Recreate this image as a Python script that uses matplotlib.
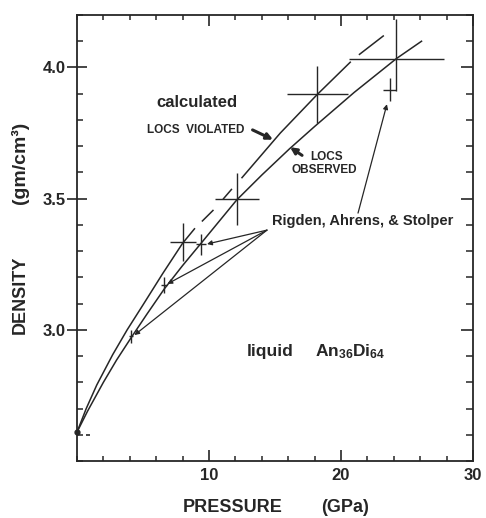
import numpy as np
import matplotlib
matplotlib.use('Agg')
import matplotlib.pyplot as plt
from matplotlib.ticker import MultipleLocator

plt.rcParams['font.family'] = ['Liberation Sans', 'DejaVu Sans']
plt.rcParams['font.weight'] = 'bold'
plt.rcParams['mathtext.fontset'] = 'custom'
plt.rcParams['mathtext.rm'] = 'Liberation Sans:bold'
plt.rcParams['mathtext.default'] = 'rm'

ink = '#262626'

# calculated curve, LOCS violated (upper), split where it is drawn dashed
viol_p1 = [0, 0.7, 1.5, 2.7, 3.8, 5.0, 6.5, 8.0, 8.9]
viol_d1 = [2.61, 2.70, 2.79, 2.905, 3.0, 3.095, 3.215, 3.33, 3.385]
viol_dash = [([9.5, 10.3], [3.415, 3.455]),
             ([11.1, 11.7], [3.50, 3.535]),
             ([21.4, 23.2], [4.05, 4.12])]
viol_p2 = [12.5, 15.4, 18.2, 20.7]
viol_d2 = [3.58, 3.75, 3.897, 4.02]

# calculated curve, LOCS observed (lower)
obs_p = [0, 0.8, 2, 3, 4.1, 5.3, 6.6, 8, 9.4, 12.1, 14, 16.1, 18, 21, 24.2, 26.1]
obs_d = [2.61, 2.69, 2.80, 2.885, 2.97, 3.06, 3.155, 3.245, 3.33, 3.495,
         3.59, 3.69, 3.775, 3.905, 4.034, 4.10]

# large crosses
big_p = [8.03, 12.12, 18.2, 24.2]
big_d = [3.335, 3.498, 3.897, 4.034]
big_perr = [1.0, 1.7, 2.3, 3.6]
big_derr_lo = [0.072, 0.10, 0.11, 0.125]
big_derr_hi = [0.072, 0.10, 0.11, 0.15]

# Rigden, Ahrens & Stolper points
ras_p = [4.1, 6.6, 9.4, 23.7]
ras_d = [2.975, 3.17, 3.327, 3.916]
ras_perr = [0.15, 0.2, 0.4, 0.5]
ras_derr = [0.025, 0.03, 0.04, 0.045]

fig = plt.figure(figsize=(4.86, 5.18), dpi=100)
ax = fig.add_axes([77/486, 57/518, 396/486, 446/518])

lw = 1.1
ax.plot(viol_p1, viol_d1, color=ink, lw=lw)
ax.plot(viol_p2, viol_d2, color=ink, lw=lw)
for p, d in viol_dash:
    ax.plot(p, d, color=ink, lw=lw)
ax.plot(obs_p, obs_d, color=ink, lw=lw)

ax.errorbar(big_p, big_d, xerr=big_perr, yerr=[big_derr_lo, big_derr_hi],
            fmt='none', ecolor=ink, elinewidth=1.0, capsize=0)
ax.errorbar(ras_p, ras_d, xerr=ras_perr, yerr=ras_derr,
            fmt='none', ecolor=ink, elinewidth=1.0, capsize=0)

# starting point
ax.plot([0], [2.61], 'o', color=ink, ms=3.5, clip_on=False)
ax.plot([0.85], [2.60], '_', color=ink, ms=3.5, mew=1.2)

# labels
ax.text(9.1, 3.867, 'calculated', fontsize=12, ha='center', va='center', color=ink)
ax.text(9.0, 3.76, 'LOCS  VIOLATED', fontsize=8.5, ha='center', va='center', color=ink)
ax.annotate('', xy=(14.85, 3.725), xytext=(13.3, 3.762),
            arrowprops=dict(arrowstyle='-|>', color=ink, lw=2.2,
                            mutation_scale=9, shrinkA=0, shrinkB=0))
ax.text(18.94, 3.658, 'LOCS', fontsize=8.5, ha='center', va='center', color=ink)
ax.text(18.71, 3.608, 'OBSERVED', fontsize=8.5, ha='center', va='center', color=ink)
ax.annotate('', xy=(16.14, 3.696), xytext=(17.05, 3.665),
            arrowprops=dict(arrowstyle='-|>', color=ink, lw=2.2,
                            mutation_scale=9, shrinkA=0, shrinkB=0))

ax.text(14.77, 3.414, 'Rigden, Ahrens, & Stolper', fontsize=10.5,
        ha='left', va='center', color=ink)
tail = (14.39, 3.38)
for tip in [(9.85, 3.327), (6.85, 3.175), (4.35, 2.98)]:
    ax.annotate('', xy=tip, xytext=tail,
                arrowprops=dict(arrowstyle='-|>', color=ink, lw=0.9,
                                mutation_scale=7, shrinkA=0, shrinkB=0))
ax.annotate('', xy=(23.48, 3.86), xytext=(21.29, 3.445),
            arrowprops=dict(arrowstyle='-|>', color=ink, lw=0.9,
                            mutation_scale=7, shrinkA=0, shrinkB=0))

ax.text(12.88, 2.916, 'liquid', fontsize=12.5, ha='left', va='center', color=ink)
ax.text(18.03, 2.916, r'An$_{36}$Di$_{64}$', fontsize=12.5, ha='left',
        va='center', color=ink)

# axes
ax.set_xlim(0, 30)
ax.set_ylim(2.5, 4.2)
ax.set_xticks([10, 20, 30])
ax.set_xticklabels(['10', '20', '30'])
ax.xaxis.set_minor_locator(MultipleLocator(2))
ax.set_yticks([3.0, 3.5, 4.0])
ax.set_yticklabels(['3.0', '3.5', '4.0'])
ax.yaxis.set_minor_locator(MultipleLocator(0.1))
for s in ax.spines.values():
    s.set_linewidth(1.3)
    s.set_color(ink)
ax.tick_params(axis='x', which='major', direction='in', length=8, width=1.2,
               top=True, labelsize=12, pad=5, colors=ink)
ax.tick_params(axis='x', which='minor', direction='in', length=3.6, width=1.1,
               top=True, colors=ink)
ax.tick_params(axis='y', which='major', direction='inout', length=14, width=1.2,
               right=False, labelsize=12, pad=1, colors=ink)
ax.tick_params(axis='y', which='minor', direction='in', length=4.3, width=1.1,
               right=False, colors=ink)

ax2 = ax.twinx()
ax2.set_ylim(2.5, 4.2)
ax2.set_yticks([3.0, 3.5, 4.0])
ax2.yaxis.set_minor_locator(MultipleLocator(0.1))
ax2.tick_params(axis='y', which='major', direction='in', length=8.6, width=1.2,
                labelright=False, colors=ink)
ax2.tick_params(axis='y', which='minor', direction='in', length=5, width=1.1,
                colors=ink)
for s in ax2.spines.values():
    s.set_visible(False)

fig.text(20/486, 1 - 295/518, 'DENSITY', rotation=90, fontsize=13,
         ha='center', va='center', color=ink)
fig.text(20/486, 1 - 163/518, '(gm/cm³)', rotation=90, fontsize=14,
         ha='center', va='center', color=ink)
fig.text(233/486, 1 - 508/518, 'PRESSURE', fontsize=13, ha='center',
         va='center', color=ink)
fig.text(345/486, 1 - 508/518, '(GPa)', fontsize=13, ha='center',
         va='center', color=ink)

fig.savefig('out.png', dpi=100)
